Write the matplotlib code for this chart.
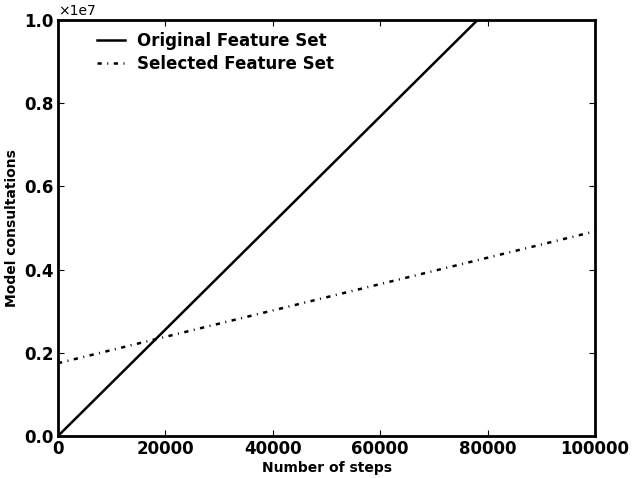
import matplotlib
matplotlib.use("Agg")
import matplotlib.pyplot as plt

steps = [0, 100000]
original = [0, 12800000]
selected = [1750000, 4920000]
labels = ["Original Feature Set", "Selected Feature Set"]

plt.rcParams['font.family'] = ['DejaVu Sans']

fig = plt.figure(figsize=(6.33, 4.78), dpi=100)
ax = fig.add_axes([58/633, 42/478, 537/633, 416/478])
ax.plot(steps, original, color='black', lw=1.8, label=labels[0])
ax.plot(steps, selected, color='black', lw=1.8, linestyle=(0, (1.7, 2.2, 0.4, 2.2)),
        label=labels[1])
ax.set_xlim(0, 100000)
ax.set_ylim(0, 1e7)
ax.set_xticks([0, 20000, 40000, 60000, 80000, 100000])
ax.set_yticks([0, 2e6, 4e6, 6e6, 8e6, 1e7])
ax.set_yticklabels([f"{v/1e7:.1f}" for v in ax.get_yticks()])
ax.tick_params(direction='in', length=4, width=0.8, labelsize=12, top=True, right=True, pad=3)
for lab in ax.get_xticklabels() + ax.get_yticklabels():
    lab.set_fontweight('bold')
ax.text(0.0, 1.005, "\u00d71e7", transform=ax.transAxes, fontsize=10,
        ha='left', va='bottom')
for s in ax.spines.values():
    s.set_linewidth(2)
ax.set_xlabel("Number of steps", fontsize=10, fontweight='bold', labelpad=2)
ax.set_ylabel("Model consultations", fontsize=10, fontweight='bold')
ax.legend(loc='upper left', frameon=False, prop={'weight': 'bold', 'size': 12},
          handlelength=1.7, handletextpad=0.7, borderaxespad=0.3, labelspacing=0.3,
          bbox_to_anchor=(0.05, 1.0))
fig.savefig("out.png", dpi=100)
